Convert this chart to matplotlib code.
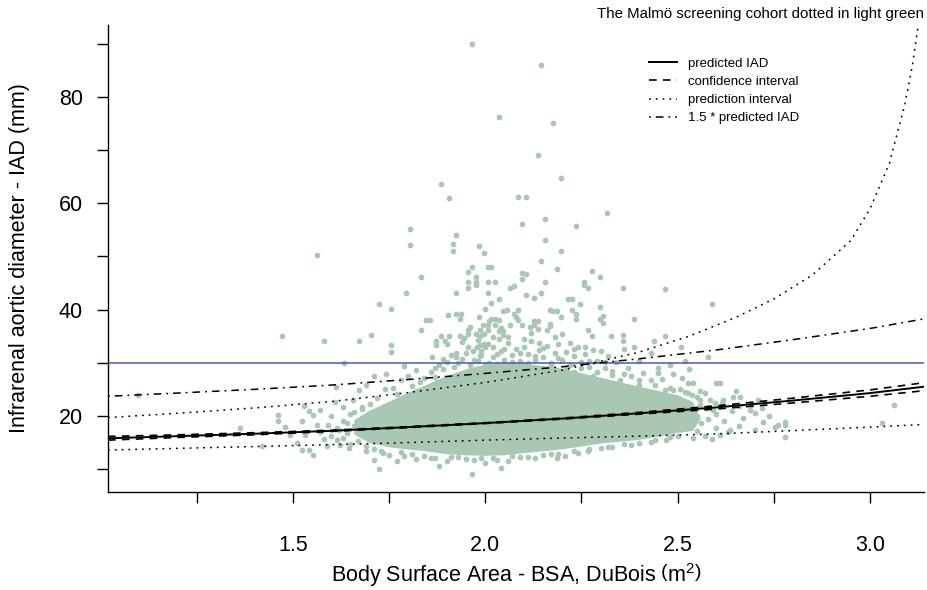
import matplotlib
matplotlib.use('Agg')
import matplotlib.pyplot as plt
from matplotlib.lines import Line2D

plt.rcParams['font.family'] = ['Liberation Sans', 'DejaVu Sans']
plt.rcParams['mathtext.fontset'] = 'custom'
plt.rcParams['mathtext.rm'] = 'Liberation Sans'
plt.rcParams['mathtext.it'] = 'Liberation Sans:italic'
plt.rcParams['lines.scale_dashes'] = False

# ---------------- data ----------------
curve_bsa = [1.02, 1.20, 1.40, 1.60, 1.80, 2.00, 2.20, 2.40, 2.60, 2.80, 3.00, 3.14]
pred_iad = [15.8, 16.2, 16.65, 17.2, 17.9, 18.65, 19.5, 20.5, 21.6, 22.9, 24.3, 25.5]
ci_lower = [15.45, 15.95, 16.45, 17.08, 17.8, 18.57, 19.4, 20.33, 21.3, 22.45, 23.7, 24.75]
ci_upper = [16.15, 16.45, 16.85, 17.32, 18.0, 18.73, 19.6, 20.67, 21.9, 23.35, 24.9, 26.25]
pred_iad_15 = [23.7, 24.3, 25.0, 25.8, 26.85, 28.0, 29.25, 30.75, 32.4, 34.35, 36.45, 38.25]
pi_lower = [13.6, 13.9, 14.25, 14.6, 15.0, 15.45, 15.85, 16.2, 16.62, 17.25, 17.9, 18.4]

pi_upper_bsa = [1.02, 1.20, 1.40, 1.60, 1.80, 2.00, 2.20, 2.40, 2.53, 2.65, 2.75,
                2.85, 2.95, 3.00, 3.05, 3.09, 3.11, 3.125]
pi_upper = [19.7, 20.5, 21.5, 22.7, 24.4, 26.3, 28.6, 32.0, 35.0, 38.5, 42.0,
            46.5, 53.0, 59.0, 67.5, 78.5, 86.0, 93.5]

aaa_threshold = 30

# dense core of the cohort cloud (outline of the solid mass of dots)
core_bsa = [1.66, 1.70, 1.76, 1.80, 1.84, 1.88, 1.92, 1.96, 2.00, 2.05, 2.10, 2.15,
            2.20, 2.30, 2.40, 2.50, 2.54, 2.56, 2.54, 2.50, 2.45, 2.40, 2.30, 2.20,
            2.10, 2.05, 2.00, 1.95, 1.90, 1.84, 1.76, 1.70, 1.66]
core_iad = [19.2, 21.0, 23.0, 24.4, 25.6, 26.9, 28.0, 29.0, 29.6, 30.0, 29.8, 29.4,
            28.9, 27.2, 25.5, 23.9, 22.6, 19.5, 17.2, 16.8, 16.1, 15.5, 14.8, 13.7,
            13.0, 12.6, 12.5, 12.6, 12.8, 13.4, 14.0, 14.9, 16.5]

# individual dots outside the solid core
outlier_bsa = [1.966, 2.146, 2.035, 2.176, 2.136, 1.884, 2.196, 1.905, 2.085, 2.105, 2.317, 2.096,
               2.156, 2.237, 1.804, 1.925, 2.156, 1.804, 1.915, 1.915, 1.985, 1.996, 2.196, 1.562,
               2.146, 1.965, 2.006, 2.016, 2.187, 1.955, 2.096, 2.106, 2.277, 1.975, 1.834, 2.297,
               2.096, 1.975, 1.975, 1.955, 2.006, 2.025, 2.156, 2.257, 2.257, 1.955, 2.065, 2.076,
               2.267, 2.358, 2.468, 1.794, 1.925, 2.006, 2.146, 2.106, 2.126, 2.036, 2.216, 2.226,
               2.016, 1.723, 2.247, 2.590, 2.297, 1.754, 2.167, 2.226, 2.056, 2.086, 2.177, 2.187,
               2.045, 1.904, 1.925, 1.936, 2.076, 2.237, 2.307, 2.196, 1.985, 1.934, 2.016, 2.025,
               2.237, 2.297, 2.387, 1.845, 1.856, 2.036, 2.086, 2.136, 2.126, 2.011, 2.307, 2.167,
               1.995, 2.006, 2.025, 2.065, 2.096, 2.126, 2.167, 2.116, 2.136, 1.834, 1.955, 1.986,
               2.006, 2.267, 2.036, 2.045, 1.955, 1.975, 1.996, 2.045, 1.471, 1.703, 1.905, 1.934,
               1.986, 2.277, 2.327, 2.358, 2.468, 1.884, 1.944, 2.036, 1.582, 1.673, 1.895, 1.873,
               2.358, 2.438, 1.754, 1.873, 1.986, 1.996, 1.979, 2.387, 2.508, 1.754, 1.632]
outlier_iad = [90.0, 85.9, 76.2, 75.0, 69.0, 63.7, 64.75, 61.0, 61.1, 61.1, 58.1, 56.1,
               57.0, 55.7, 55.1, 54.05, 53.05, 52.05, 52.4, 51.05, 51.9, 50.6, 51.05, 50.2,
               49.05, 48.05, 48.05, 48.05, 47.7, 47.0, 46.85, 46.6, 47.3, 46.05, 46.05, 46.05,
               45.8, 45.1, 44.6, 45.1, 45.1, 45.1, 45.1, 45.1, 44.7, 44.1, 44.1, 44.4,
               44.1, 44.1, 43.8, 43.1, 43.1, 43.1, 43.1, 42.7, 42.2, 42.0, 42.0, 42.0,
               41.3, 41.0, 41.1, 41.0, 40.4, 40.1, 40.0, 40.0, 40.0, 40.0, 39.7, 39.7,
               39.7, 39.0, 39.1, 39.1, 39.1, 39.1, 38.8, 38.65, 38.6, 38.2, 38.2, 38.3,
               38.2, 38.2, 38.2, 38.0, 38.0, 38.0, 38.0, 37.8, 37.8, 37.8, 37.4, 37.2,
               37.1, 37.1, 37.1, 37.1, 37.1, 37.1, 36.9, 36.8, 36.3, 36.1, 36.1, 36.1,
               36.1, 36.1, 36.0, 36.0, 35.5, 35.5, 35.4, 35.2, 35.1, 35.15, 35.1, 35.1,
               35.1, 35.1, 35.1, 35.2, 35.1, 35.0, 34.65, 34.5, 34.1, 34.0, 34.1, 34.0,
               34.1, 34.1, 33.3, 33.3, 33.3, 33.6, 33.0, 33.0, 33.0, 32.0, 30.0]

fringe_bsa = [1.863, 1.925, 1.925, 1.955, 1.967, 1.986, 1.997, 2.008, 1.99, 2.00, 2.02, 2.02,
              2.04, 2.05, 2.06, 2.07, 2.08, 2.09, 2.10, 2.11, 2.12, 2.13, 2.14, 2.15,
              2.16, 2.17, 2.18, 2.19, 2.20, 2.21, 2.22, 2.23, 2.24, 2.25, 2.26, 2.27,
              2.28, 2.29, 2.31, 2.32, 2.33, 2.34, 2.36, 2.37, 2.38, 2.40, 2.41, 2.43,
              2.45, 2.46, 1.88, 1.90, 1.92, 1.94, 1.96, 1.98, 2.00, 2.03, 2.06, 2.10,
              2.14, 2.18, 2.23, 2.28, 2.35, 2.40,
              1.712, 1.743, 1.691, 1.672, 1.657, 1.76, 1.78, 1.80, 1.82, 1.84, 1.86, 1.79,
              1.74, 1.77, 1.81, 1.83, 1.87, 1.89, 1.72, 1.70, 1.68, 1.65, 1.63, 1.61,
              1.098, 1.362, 1.421, 1.461, 1.461, 1.481, 1.492, 1.523, 1.529, 1.541, 1.523, 1.542,
              1.553, 1.511, 1.531, 1.562, 1.592, 1.615, 1.553, 1.570, 1.615, 1.588, 1.622, 1.612,
              1.60, 1.63, 1.64, 1.65, 1.58, 1.66, 1.57, 1.60, 1.645,
              1.711, 1.735, 1.724, 1.772, 1.965, 1.69, 1.75, 1.79, 1.82, 1.86, 1.90, 1.93,
              1.97, 2.00, 2.02, 2.06, 2.09, 2.13, 2.187, 2.207, 2.17, 2.24, 2.267, 2.30,
              2.33, 1.88, 2.04,
              2.449, 2.488, 2.510, 2.527, 2.540, 2.600, 2.609, 2.468, 2.488, 2.505, 2.527, 2.537,
              2.557, 2.583, 2.597, 2.614, 2.557, 2.574, 2.592, 2.557, 2.570, 2.618, 2.644, 2.652,
              2.661, 2.709, 2.687, 2.691, 2.738, 2.722, 2.752, 2.761, 2.780, 2.780, 2.780, 2.700,
              2.635, 2.609, 2.589, 2.570, 3.061, 3.031, 2.579,
              2.55, 2.56, 2.58, 2.60, 2.62, 2.64, 2.66, 2.67, 2.70, 2.55, 2.60, 2.63,
              2.66, 2.72, 2.54, 2.50, 2.47, 2.43, 2.38, 2.53, 2.48, 2.43, 2.52]
fringe_iad = [31.1, 31.8, 31.1, 32.9, 32.2, 31.2, 33.3, 33.6, 31.5, 32.9, 33.0, 31.0,
              32.2, 30.5, 33.7, 31.4, 32.5, 30.3, 33.0, 31.6, 34.0, 30.6, 32.4, 31.0,
              33.2, 30.0, 31.8, 33.6, 30.5, 32.0, 29.6, 31.2, 33.0, 30.1, 31.6, 29.2,
              32.4, 30.4, 29.0, 31.2, 28.5, 30.2, 32.6, 29.0, 27.6, 30.4, 28.0, 26.8,
              29.1, 27.0, 29.5, 30.2, 29.2, 30.8, 29.6, 30.3, 29.5, 29.8, 29.4, 29.2,
              28.9, 28.6, 28.2, 27.6, 26.8, 25.8,
              27.5, 27.9, 25.8, 24.9, 23.0, 25.3, 26.8, 27.6, 28.7, 27.2, 28.3, 29.4,
              25.0, 24.2, 25.6, 26.3, 27.3, 28.8, 23.4, 22.2, 21.3, 20.4, 21.6, 22.7,
              23.9, 17.8, 14.4, 20.1, 19.0, 18.0, 16.4, 19.1, 21.9, 20.9, 13.6, 13.6,
              12.7, 15.0, 16.4, 18.3, 18.3, 17.7, 20.2, 21.1, 15.4, 14.4, 14.6, 25.4,
              16.2, 19.0, 16.8, 14.8, 15.6, 18.2, 17.0, 20.0, 13.9,
              11.7, 13.0, 10.05, 11.6, 9.05, 13.4, 12.6, 12.4, 11.9, 12.1, 11.5, 12.2,
              11.8, 11.2, 12.0, 11.6, 12.3, 12.0, 12.05, 12.5, 12.8, 13.0, 13.5, 13.9,
              14.2, 10.6, 10.3,
              28.0, 27.8, 27.2, 26.1, 26.1, 26.1, 26.1, 24.9, 24.9, 25.0, 24.3, 23.9,
              23.0, 23.0, 22.4, 22.4, 22.1, 21.4, 21.1, 24.6, 24.3, 23.0, 23.6, 24.6,
              23.6, 23.0, 21.1, 22.1, 20.0, 18.8, 18.0, 18.3, 18.9, 18.3, 16.1, 17.4,
              17.4, 16.4, 15.7, 16.3, 22.1, 18.6, 31.0,
              20.0, 18.6, 19.5, 20.4, 19.0, 20.9, 18.2, 19.6, 20.5, 17.2, 17.8, 16.9,
              21.8, 21.5, 15.8, 16.3, 15.5, 15.1, 14.6, 28.9, 29.6, 31.8, 30.4]

halo_bsa = [1.87, 1.89, 1.91, 1.93, 1.95, 1.97, 1.99, 2.01, 2.03, 2.05, 2.07, 2.09,
            2.11, 2.13, 2.15, 2.17, 2.19, 2.21, 2.23, 2.25, 2.27, 2.29, 2.31, 2.33,
            1.90, 1.94, 1.98, 2.02, 2.06, 2.10, 2.14, 2.18, 2.22, 2.26, 2.30, 1.96,
            2.04, 2.12, 2.20, 2.08, 2.16, 2.00,
            1.78, 1.81, 1.84, 1.87, 1.91, 1.95, 1.99, 2.03, 2.07, 2.11, 2.15, 2.19,
            2.23, 2.27, 2.32, 2.36, 2.40, 2.44, 2.48,
            1.62, 1.64, 1.66, 1.68, 1.63, 1.67, 1.69, 1.71, 1.73,
            2.36, 2.40, 2.44, 2.48, 2.52, 2.55, 2.58]
halo_iad = [29.0, 30.8, 31.4, 29.9, 31.9, 30.5, 32.2, 30.0, 31.7, 32.6, 30.2, 31.9,
            30.0, 31.3, 32.8, 29.6, 30.9, 29.1, 32.5, 29.0, 30.3, 28.2, 30.2, 27.7,
            33.5, 33.9, 34.2, 34.8, 34.9, 34.4, 33.7, 34.9, 33.8, 32.9, 32.2, 36.8,
            36.6, 35.6, 35.4, 38.6, 36.2, 40.1,
            13.2, 12.8, 12.5, 12.0, 12.3, 11.9, 12.1, 11.7, 12.4, 12.2, 12.6, 12.9,
            13.4, 13.7, 14.1, 14.7, 15.0, 15.5, 16.1,
            17.3, 18.6, 20.7, 21.7, 15.9, 15.3, 14.3, 13.8, 13.5,
            27.8, 26.8, 25.8, 25.2, 24.5, 23.5, 21.7]

x_major = [1.5, 2.0, 2.5, 3.0]
x_major_labels = ['1.5', '2.0', '2.5', '3.0']
x_minor = [1.25, 1.75, 2.25, 2.75]
y_major = [20, 40, 60, 80]
y_minor = [10, 30, 50, 70, 90]

legend_labels = ['predicted IAD', 'confidence interval', 'prediction interval',
                 '1.5 * predicted IAD']
title_text = 'The Malmö screening cohort dotted in light green'
xlabel_text = r'Body Surface Area - BSA, DuBois $\left(\mathrm{m}^{2}\right)$'
ylabel_text = 'Infrarenal aortic diameter - IAD (mm)'

# ---------------- styles ----------------
dot_color = '#a8c8b4'
blue = '#4b5ba5'
DOTTED = (0, (1.3, 3.6))
DASHED = (0, (5.5, 4.5))
DASHDOT = (0, (1.3, 3.6, 5.5, 3.6))
DOT_SIZE = 17

fig = plt.figure(figsize=(9.27, 5.90), dpi=100)
ax = fig.add_axes([0.1165, 0.1661, 0.8803, 0.7915])

ax.fill(core_bsa, core_iad, color=dot_color, lw=0, zorder=1)
ax.scatter(outlier_bsa, outlier_iad, s=DOT_SIZE, color=dot_color, lw=0, zorder=1)
ax.scatter(fringe_bsa, fringe_iad, s=DOT_SIZE, color=dot_color, lw=0, zorder=1)
ax.scatter(halo_bsa, halo_iad, s=DOT_SIZE, color=dot_color, lw=0, zorder=1)

ax.axhline(aaa_threshold, color=blue, lw=1.1, zorder=2)

ax.plot(curve_bsa, pred_iad, color='black', lw=1.4, ls='-', zorder=3)
ax.plot(curve_bsa, ci_lower, color='black', lw=1.2, ls=DASHED, zorder=3)
ax.plot(curve_bsa, ci_upper, color='black', lw=1.2, ls=DASHED, zorder=3)
ax.plot(curve_bsa, pi_lower, color='black', lw=1.1, ls=DOTTED, zorder=3)
ax.plot(pi_upper_bsa, pi_upper, color='black', lw=1.1, ls=DOTTED, zorder=3)
ax.plot(curve_bsa, pred_iad_15, color='black', lw=1.1, ls=DASHDOT, zorder=3)

ax.set_xlim(1.02, 3.14)
ax.set_ylim(5.7, 93.5)

for side in ['top', 'right']:
    ax.spines[side].set_visible(False)
for side in ['left', 'bottom']:
    ax.spines[side].set_linewidth(1.0)

ax.set_xticks(x_major)
ax.set_xticklabels(x_major_labels)
ax.set_xticks(x_minor, minor=True)
ax.set_yticks(y_major)
ax.set_yticklabels([str(v) for v in y_major])
ax.set_yticks(y_minor, minor=True)
ax.tick_params(axis='both', which='both', length=8, width=1.0, direction='out')
ax.tick_params(axis='x', which='major', labelsize=15.5, pad=23)
ax.tick_params(axis='y', which='major', labelsize=15.5, pad=10)

handles = [Line2D([], [], color='black', lw=1.4, ls='-'),
           Line2D([], [], color='black', lw=1.2, ls=DASHED),
           Line2D([], [], color='black', lw=1.1, ls=DOTTED),
           Line2D([], [], color='black', lw=1.1, ls=DASHDOT)]
ax.legend(handles, legend_labels, loc='upper left', bbox_to_anchor=(0.663, 0.93),
          frameon=False, fontsize=9.5, handlelength=2.1, handletextpad=0.85,
          labelspacing=0.45, borderpad=0, borderaxespad=0)

fig.text(924 / 927, 1 - 14 / 590, title_text, ha='right', va='center', fontsize=10.8)
fig.text(516 / 927, 1 - 575 / 590, xlabel_text, ha='center', va='center', fontsize=15.5)
fig.text(20 / 927, 1 - 258 / 590, ylabel_text, ha='center', va='center',
         rotation=90, fontsize=15.5)

fig.savefig('out.png', dpi=100)
